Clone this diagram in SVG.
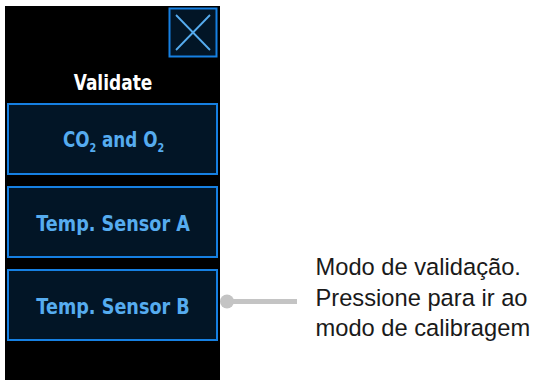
<svg xmlns="http://www.w3.org/2000/svg" width="534" height="380" viewBox="0 0 534 380">
  <style>
    .btn { fill: #021526; stroke: #1680e2; stroke-width: 2; }
    .btxt { font-family: "DejaVu Sans", sans-serif; font-weight: bold; font-size: 21px; fill: #56acef; text-anchor: middle; }
    .note { font-family: "Liberation Sans", Arial, sans-serif; font-size: 23.7px; fill: #1a1a1a; }
    .conn { stroke: #c4c4c4; stroke-width: 5; fill: none; }
  </style>
  <rect width="534" height="380" fill="#ffffff"/>
  <g id="panel">
    <rect x="5" y="6" width="215" height="374" fill="#000000"/>
  </g>
  <g id="close-button">
    <rect class="btn" x="169.5" y="8.5" width="47" height="48"/>
    <line x1="176" y1="15" x2="210" y2="50" stroke="#56acef" stroke-width="1.8"/>
    <line x1="210" y1="15" x2="176" y2="50" stroke="#56acef" stroke-width="1.8"/>
  </g>
  <g id="title">
    <text class="btxt" transform="translate(113,90) scale(0.81,1)" style="fill:#ffffff">Validate</text>
  </g>
  <g id="btn-co2">
    <rect class="btn" x="8" y="104" width="209" height="70"/>
    <text class="btxt" transform="translate(113.5,147) scale(0.8,1)">CO<tspan font-size="12" dy="5">2</tspan><tspan dy="-5"> and O</tspan><tspan font-size="12" dy="5">2</tspan></text>
  </g>
  <g id="btn-sensor-a">
    <rect class="btn" x="8" y="187" width="209" height="70"/>
    <text class="btxt" transform="translate(113,231) scale(0.84,1)">Temp. Sensor A</text>
  </g>
  <g id="btn-sensor-b">
    <rect class="btn" x="8" y="270" width="209" height="70"/>
    <text class="btxt" transform="translate(113,313.5) scale(0.84,1)">Temp. Sensor B</text>
  </g>
  <g id="connectors">
    <line class="conn" x1="227" y1="301.5" x2="297" y2="301.5"/>
    <circle cx="227" cy="301.5" r="7" fill="#c4c4c4"/>
  </g>
  <g id="annotation">
    <text class="note" x="315.5" y="275">Modo de validação.</text>
    <text class="note" x="315.5" y="305.5">Pressione para ir ao</text>
    <text class="note" x="315.5" y="336">modo de calibragem</text>
  </g>
</svg>
